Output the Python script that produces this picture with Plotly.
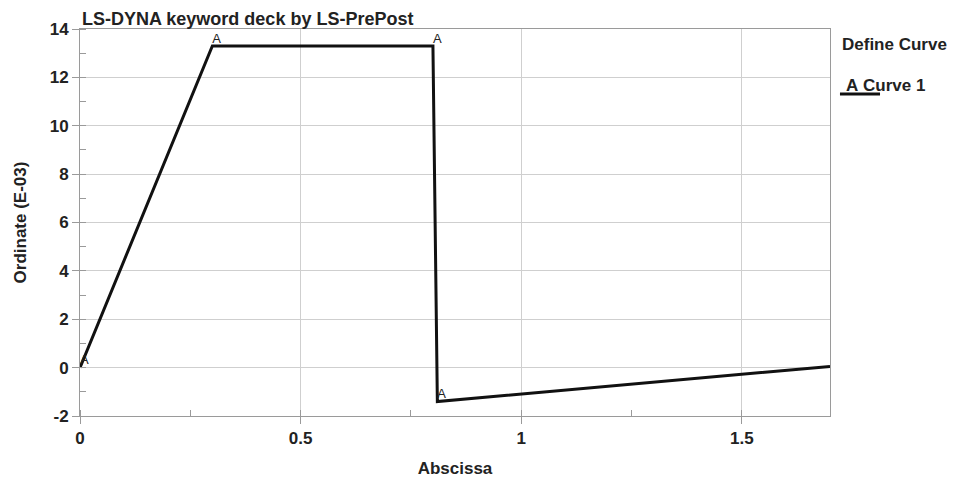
import plotly.graph_objects as go

x_vals = [0.0, 0.3, 0.8, 0.81, 1.7]
y_vals = [0.0, 13.3, 13.3, -1.4, 0.05]
marker_labels = ["A", "A", "A", "A", ""]
series_name = "Curve 1"
x_ticks = [0, 0.5, 1, 1.5]
x_tick_text = ["0", "0.5", "1", "1.5"]
y_ticks = [-2, 0, 2, 4, 6, 8, 10, 12, 14]
y_tick_text = ["-2", "0", "2", "4", "6", "8", "10", "12", "14"]

FONT = "Liberation Sans, Arial, sans-serif"
FS = 17

fig = go.Figure()
fig.add_trace(go.Scatter(
    x=x_vals, y=y_vals, mode="lines+text", name=series_name,
    text=marker_labels, textposition="top right",
    textfont=dict(family=FONT, size=13, color="#222"),
    line=dict(color="#111", width=3), showlegend=False, cliponaxis=False,
))

axis_common = dict(
    showline=True, linecolor="#9a9a9a", linewidth=1, mirror=True,
    showgrid=True, gridcolor="#cfcfcf", gridwidth=1, zeroline=False,
    ticks="outside", ticklen=7, tickcolor="#9a9a9a", automargin=False,
    tickfont=dict(family=FONT, size=FS, color="#222", weight="bold"),
)

fig.update_xaxes(range=[0, 1.7], tickvals=x_ticks, ticktext=x_tick_text,
                 minor=dict(ticks="inside", ticklen=6, dtick=0.25, tick0=0, tickcolor="#9a9a9a", showgrid=False),
                 title=dict(text="Abscissa", font=dict(family=FONT, size=FS, color="#222", weight="bold"), standoff=14),
                 **axis_common)
fig.update_yaxes(range=[-2, 14], tickvals=y_ticks, ticktext=y_tick_text,
                 minor=dict(ticks="inside", ticklen=6, dtick=1, tick0=0, tickcolor="#9a9a9a", showgrid=False),
                 title=dict(text="Ordinate (E-03)", font=dict(family=FONT, size=FS, color="#222", weight="bold"), standoff=18),
                 **axis_common)

fig.add_annotation(text="LS-DYNA keyword deck by LS-PrePost", xref="paper", yref="paper",
                   x=0, y=1, xanchor="left", yanchor="bottom", yshift=-2, showarrow=False,
                   font=dict(family=FONT, size=18, color="#222", weight="bold"))
fig.add_annotation(text="Define Curve", xref="paper", yref="paper",
                   x=1, y=0.959, xanchor="left", yanchor="middle", xshift=10, showarrow=False,
                   font=dict(family=FONT, size=FS, color="#222", weight="bold"))
fig.add_annotation(text="A", xref="paper", yref="paper",
                   x=1, y=0.853, xanchor="left", yanchor="middle", xshift=14, showarrow=False,
                   font=dict(family=FONT, size=FS, color="#222", weight="bold"))
fig.add_annotation(text=series_name, xref="paper", yref="paper",
                   x=1, y=0.853, xanchor="left", yanchor="middle", xshift=31, showarrow=False,
                   font=dict(family=FONT, size=FS, color="#222", weight="bold"))
fig.add_shape(type="line", xref="paper", yref="paper", x0=1.0133, x1=1.0667, y0=0.832, y1=0.832,
              line=dict(color="#111", width=3))

fig.update_layout(
    width=959, height=479, margin=dict(l=80, r=129, t=29, b=63),
    paper_bgcolor="white", plot_bgcolor="white",
)
fig.write_html("out.html")
